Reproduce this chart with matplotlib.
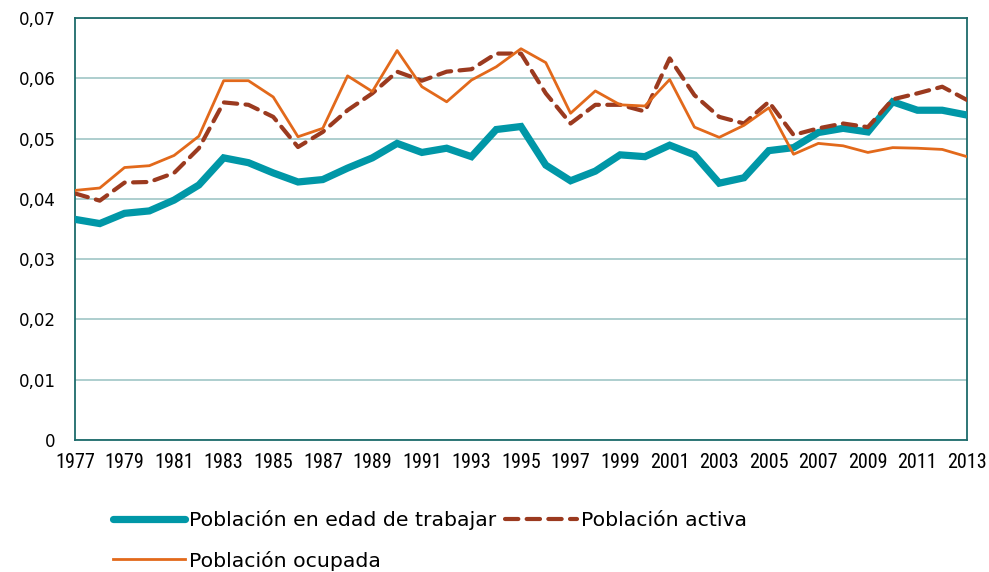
import os
import matplotlib
matplotlib.use("Agg")
import matplotlib.pyplot as plt
from matplotlib.ticker import FuncFormatter
from matplotlib import font_manager

years = list(range(1977, 2014))

edad_trabajar = [0.0366, 0.0359, 0.0376, 0.0380, 0.0398, 0.0423, 0.0468, 0.0460, 0.0443,
                 0.0428, 0.0432, 0.0451, 0.0468, 0.0492, 0.0477, 0.0484, 0.0470, 0.0515,
                 0.0520, 0.0456, 0.0430, 0.0446, 0.0473, 0.0470, 0.0489, 0.0473, 0.0426,
                 0.0435, 0.0480, 0.0485, 0.0510, 0.0517, 0.0511, 0.0561, 0.0547, 0.0547,
                 0.0539]

activa = [0.0409, 0.0397, 0.0427, 0.0428, 0.0443, 0.0484, 0.0560, 0.0556, 0.0536,
          0.0486, 0.0511, 0.0547, 0.0575, 0.0611, 0.0596, 0.0611, 0.0615, 0.0641,
          0.0641, 0.0575, 0.0525, 0.0556, 0.0556, 0.0545, 0.0633, 0.0572, 0.0536,
          0.0525, 0.0561, 0.0506, 0.0517, 0.0525, 0.0519, 0.0565, 0.0575, 0.0586,
          0.0564]

ocupada = [0.0414, 0.0418, 0.0452, 0.0455, 0.0472, 0.0504, 0.0596, 0.0596, 0.0569,
           0.0503, 0.0517, 0.0604, 0.0578, 0.0646, 0.0586, 0.0561, 0.0597, 0.0619,
           0.0649, 0.0626, 0.0542, 0.0579, 0.0556, 0.0554, 0.0598, 0.0519, 0.0502,
           0.0522, 0.0551, 0.0474, 0.0492, 0.0488, 0.0477, 0.0485, 0.0484, 0.0482,
           0.0470]

labels = ["Población en edad de trabajar", "Población activa", "Población ocupada"]
x_ticks = list(range(1977, 2014, 2))
y_ticks = [0, 0.01, 0.02, 0.03, 0.04, 0.05, 0.06, 0.07]

TEAL = "#0097a7"
RUST = "#9b3a1f"
ORANGE = "#e2691b"
FRAME = "#1d6b6b"
GRID = "#9fc6c6"


def narrow_regular_font():
    """Return the path of an installed upright, regular-weight narrow face."""
    heavy = ("bold", "black", "heavy", "semi", "extra", "medium", "light",
             "thin", "italic", "oblique")
    best, best_score = None, -1
    for path in font_manager.findSystemFonts():
        name = os.path.basename(path).lower()
        if not ("narrow" in name or "condensed" in name):
            continue
        if any(w in name for w in heavy):
            continue
        score = 1
        if "regular" in name:
            score += 1
        if "liberation" in name or "dejavu" in name or "roboto" in name:
            score += 1
        if score > best_score:
            best, best_score = path, score
    return best


narrow_file = narrow_regular_font()
if narrow_file:
    year_font = font_manager.FontProperties(fname=narrow_file, size=14.5)
else:
    year_font = font_manager.FontProperties(family="DejaVu Sans", size=10.5)

fig = plt.figure(figsize=(9.89, 5.72), dpi=100)
ax = fig.add_axes([75 / 989, 1 - 440 / 572, (967 - 75) / 989, (440 - 18) / 572])

l1, = ax.plot(years, edad_trabajar, color=TEAL, lw=5.2, solid_joinstyle="miter",
              solid_capstyle="round", zorder=3)
l2, = ax.plot(years, activa, color=RUST, lw=3.0, dashes=(3.2, 2.0),
              dash_capstyle="round", zorder=4)
l3, = ax.plot(years, ocupada, color=ORANGE, lw=2.0, zorder=5)

ax.set_xlim(1977, 2013)
ax.set_ylim(0, 0.07)
ax.set_yticks(y_ticks)
ax.yaxis.set_major_formatter(FuncFormatter(
    lambda v, p: "0" if v == 0 else f"{v:.2f}".replace(".", ",")))
ax.set_xticks(x_ticks)
ax.set_xticklabels([str(y) for y in x_ticks], fontproperties=year_font)
ax.tick_params(axis="x", length=0, pad=9, colors="black")
ax.tick_params(axis="y", length=0, pad=14, labelsize=12)
for lab in ax.get_yticklabels():
    lab.set_fontfamily("DejaVu Sans")

ax.grid(axis="y", color=GRID, lw=1.2, zorder=0)
ax.set_axisbelow(True)
for s in ax.spines.values():
    s.set_color(FRAME)
    s.set_linewidth(1.3)

leg = fig.legend([l1, l3, l2], [labels[0], labels[2], labels[1]],
                 ncol=2, loc="upper left", bbox_to_anchor=(105 / 989, 1 - 502 / 572),
                 frameon=False, handlelength=3.5, handletextpad=0.2,
                 columnspacing=0.45, labelspacing=1.0, borderaxespad=0,
                 prop={"family": "DejaVu Sans", "size": 14.7})

fig.savefig("out.png", dpi=100, facecolor="white")
